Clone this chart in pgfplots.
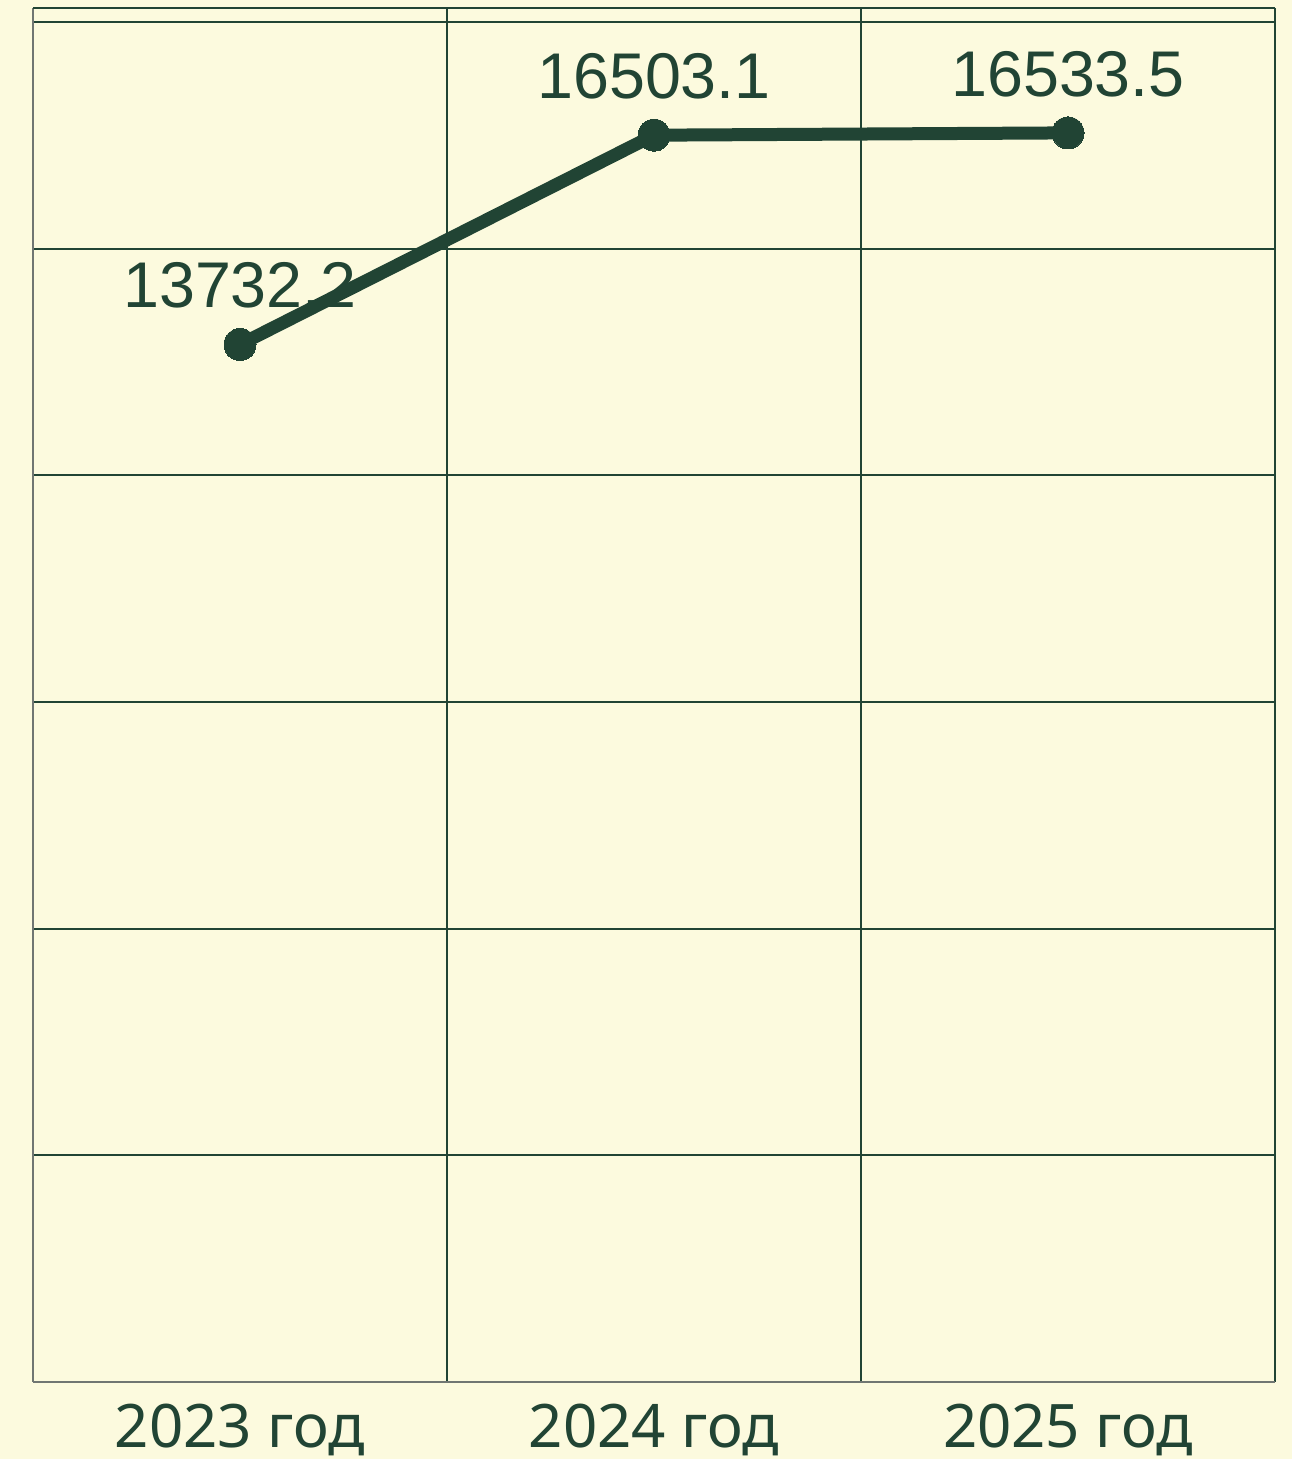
\documentclass[border=0pt]{standalone}
\usepackage{fontspec}
\setmainfont{Liberation Sans}
\newfontfamily\notosans{Noto Sans}
\usepackage{pgfplots}
\pgfplotsset{compat=1.18}
\definecolor{bg}{RGB}{252,250,222}
\definecolor{ink}{RGB}{33,68,52}
\definecolor{frame}{RGB}{112,118,114}

\begin{document}
\begin{tikzpicture}
\fill[bg, use as bounding box] (-16.5pt,-38.5pt) rectangle (629.5pt,691pt);
\begin{axis}[
  at={(0pt,0pt)}, anchor=south west,
  scale only axis, width=621pt, height=687pt,
  xmin=-0.5, xmax=2.5, ymin=0, ymax=18186.85,
  axis lines*=left,
  axis line style={frame, line width=1pt, -},
  xtick={0,1,2},
  xticklabels={2023 год, 2024 год, 2025 год},
  minor xtick={0.5,1.5,2.5},
  xminorgrids,
  ytick={0,3000,...,18000},
  yticklabels={},
  scaled y ticks=false,
  ymajorgrids,
  extra y ticks={18186.85},
  extra y tick labels={},
  extra y tick style={grid=major},
  major tick length=0pt, minor tick length=0pt,
  grid style={ink, line width=1pt},
  minor grid style={ink, line width=1pt},
  xticklabel style={font=\notosans\fontsize{30}{30}\selectfont, text=ink, yshift=-7.5pt},
  clip=false,
  nodes near coords, point meta=explicit symbolic,
  nodes near coords style={font=\fontsize{32.3}{32.3}\selectfont, text=ink, anchor=south, inner sep=0pt, yshift=18pt},
]
% values as labelled on the chart
\addplot[ink, line width=6.5pt, mark=*, mark size=8pt,
  mark options={fill=ink, draw=ink, line width=0pt}]
  coordinates {(0,13732.2)[13732.2] (1,16503.1)[16503.1] (2,16533.5)[16533.5]};
\end{axis}
\end{tikzpicture}
\end{document}
